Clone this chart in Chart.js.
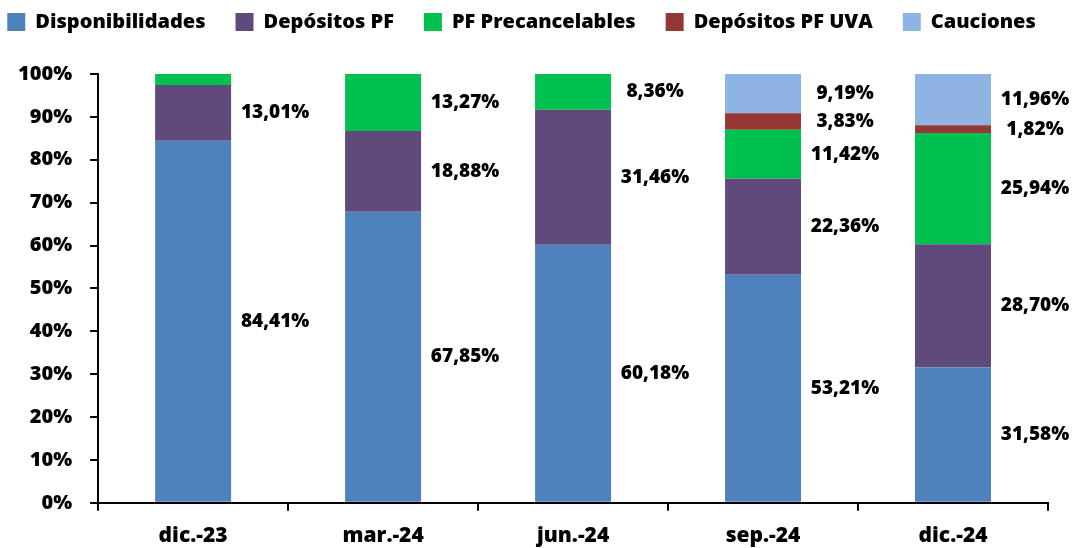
<!DOCTYPE html>
<html>
<head>
<meta charset="utf-8">
<script src="https://cdn.jsdelivr.net/npm/chart.js@4.4.1/dist/chart.umd.min.js"></script>
<style>
  html, body { margin: 0; padding: 0; background: #fff; }
  #wrap { width: 1075px; height: 548px; }
</style>
</head>
<body>
<div id="wrap"><canvas id="grafico" width="1075" height="548"></canvas></div>
<script>
var periodos = ['dic.-23', 'mar.-24', 'jun.-24', 'sep.-24', 'dic.-24'];
var disponibilidades = [84.41, 67.85, 60.18, 53.21, 31.58];
var depositosPF = [13.01, 18.88, 31.46, 22.36, 28.70];
var pfPrecancelables = [2.58, 13.27, 8.36, 11.42, 25.94];
var depositosUVA = [0, 0, 0, 3.83, 1.82];
var cauciones = [0, 0, 0, 9.19, 11.96];
var ticksY = [0, 10, 20, 30, 40, 50, 60, 70, 80, 90, 100];
// etiquetas que no aparecen en el original [serie, periodo]
var sinEtiqueta = [[2, 0]];

var fuente = '"Open Sans", "Liberation Sans", sans-serif';
Chart.defaults.font.family = fuente;
Chart.defaults.font.weight = '800';
Chart.defaults.color = '#000';

// etiquetas a la derecha de cada segmento
var etiquetasPlugin = {
  id: 'etiquetas',
  afterDatasetsDraw: function(chart){
    var ctx = chart.ctx;
    ctx.save();
    ctx.font = '800 19px ' + fuente;
    ctx.fillStyle = '#000';
    ctx.textAlign = 'center';
    ctx.textBaseline = 'middle';
    chart.data.datasets.forEach(function(ds, i){
      var meta = chart.getDatasetMeta(i);
      meta.data.forEach(function(bar, j){
        var v = ds.data[j];
        if(!v) return;
        var skip = sinEtiqueta.some(function(s){ return s[0] === i && s[1] === j; });
        if(skip) return;
        var y = (bar.y + bar.base) / 2;
        var texto = v.toFixed(2).replace('.', ',') + '%';
        ctx.fillText(texto, bar.x + 82, y);
      });
    });
    ctx.restore();
  }
};

// leyenda en una sola linea y con mas espacio debajo
var leyendaAlta = {
  id: 'leyendaAlta',
  beforeInit: function(chart){
    var fit = chart.legend.fit;
    chart.legend.fit = function(){
      var mw = this.maxWidth;
      this.maxWidth = 2000;
      fit.call(this);
      this.maxWidth = mw;
      this.width = mw;
      this.height += 32;
    };
  },
  afterLayout: function(chart){
    // un poco corrida a la izquierda como en el original
    chart.legend.left = -32;
    chart.legend.right = 1075;
    chart.legend.width = 1107;
  }
};

var serie = function(label, data, color){
  return {
    label: label,
    data: data,
    backgroundColor: color,
    borderWidth: 0,
    categoryPercentage: 1,
    barPercentage: 0.4
  };
};

var opt = {
  type: 'bar',
  data: {
    labels: periodos,
    datasets: [
      serie('Disponibilidades', disponibilidades, '#4F81BD'),
      serie('Depósitos PF', depositosPF, '#604A7B'),
      serie('PF Precancelables', pfPrecancelables, '#00C050'),
      serie('Depósitos PF UVA', depositosUVA, '#953735'),
      serie('Cauciones', cauciones, '#8EB4E3')
    ]
  },
  options: {
    responsive: false,
    animation: false,
    layout: { padding: { left: 0, right: 27, top: -18, bottom: -14 } },
    plugins: {
      legend: {
        position: 'top',
        labels: {
          boxWidth: 18,
          boxHeight: 18,
          padding: 30,
          font: { size: 20, weight: '800' },
          color: '#000'
        }
      },
      tooltip: { enabled: false }
    },
    scales: {
      x: {
        stacked: true,
        grid: {
          offset: true,
          drawOnChartArea: false,
          tickLength: 8,
          color: '#000',
          lineWidth: 2
        },
        border: { color: '#000', width: 2 },
        ticks: { font: { size: 21, weight: '800' }, padding: 13, color: '#000' }
      },
      y: {
        stacked: true,
        min: 0,
        max: 100,
        afterBuildTicks: function(axis){
          axis.ticks = ticksY.map(function(v){ return { value: v }; });
        },
        grid: {
          drawOnChartArea: false,
          tickLength: 8,
          color: '#000',
          lineWidth: 2
        },
        border: { color: '#000', width: 2 },
        ticks: {
          font: { size: 20, weight: '800' },
          padding: 18,
          color: '#000',
          callback: function(v){ return v + '%'; }
        }
      }
    }
  },
  plugins: [etiquetasPlugin, leyendaAlta]
};

var grafico = new Chart(document.getElementById('grafico'), opt);
</script>
</body>
</html>
